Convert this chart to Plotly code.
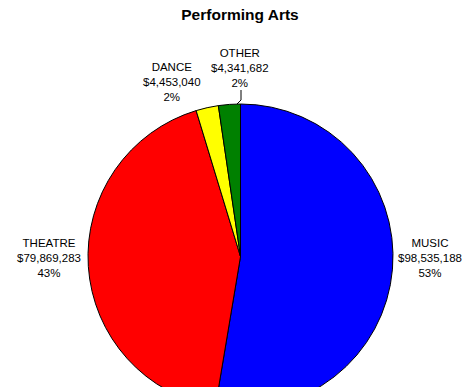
import plotly.graph_objects as go

# Performing arts funding by discipline
categories = ["MUSIC", "THEATRE", "DANCE", "OTHER"]
amounts = [98535188, 79869283, 4453040, 4341682]
colors = ["#0000FF", "#FF0000", "#FFFF00", "#008000"]

W, H = 473, 420  # canvas taller than the view so the pie runs off the bottom edge


def px(x):
    return x / W


def py(y):
    return 1 - y / H


total = sum(amounts)
label_text = [
    f"{c}<br>${v:,}<br>{round(100 * v / total)}%" for c, v in zip(categories, amounts)
]

# label block centres in pixels (x, y)
label_pos = {
    "MUSIC": (430, 257.5),
    "THEATRE": (49, 257.5),
    "DANCE": (172, 82),
    "OTHER": (240, 67.5),
}

fig = go.Figure(
    go.Pie(
        labels=categories,
        values=amounts,
        sort=False,
        direction="clockwise",
        rotation=0,
        marker=dict(colors=colors, line=dict(color="black", width=1)),
        textinfo="none",
        hoverinfo="label+value+percent",
        domain=dict(x=[px(88), px(393)], y=[py(409), py(104)]),
        showlegend=False,
    )
)

for c, t in zip(categories, label_text):
    x, y = label_pos[c]
    fig.add_annotation(
        x=px(x), y=py(y), xref="paper", yref="paper",
        text=t, showarrow=False, xanchor="center", yanchor="middle",
        align="center",
        font=dict(family="Liberation Sans, Arial, sans-serif", size=11.5, color="black"),
    )

# leader line for the OTHER label
fig.add_shape(
    type="path",
    path=f"M {px(241)} {py(90)} L {px(241)} {py(100)} L {px(237)} {py(104)}",
    xref="paper", yref="paper",
    line=dict(color="black", width=1),
)

fig.update_layout(
    width=W,
    height=H,
    margin=dict(l=0, r=0, t=0, b=0),
    paper_bgcolor="white",
    plot_bgcolor="white",
    title=dict(
        text="<b>Performing Arts</b>",
        x=px(240), y=py(15), xanchor="center", yanchor="middle",
        font=dict(family="Liberation Sans, Arial, sans-serif", size=15.5, color="black"),
    ),
)

fig.write_html(
    "out.html",
    post_script="document.documentElement.style.overflow='hidden';document.body.style.overflow='hidden';",
)
